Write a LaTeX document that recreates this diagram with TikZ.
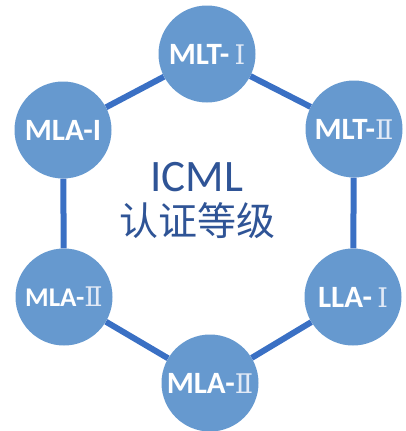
\documentclass[tikz,border=0pt]{standalone}
\usepackage{fontspec}
\setmainfont{Carlito}
\newfontfamily\cjk{Noto Sans CJK SC}
\newfontfamily\numfont{DejaVu Serif}
\usetikzlibrary{positioning}
\definecolor{ringblue}{RGB}{58,112,196}
\definecolor{levelblue}{RGB}{102,153,207}
\definecolor{titleblue}{RGB}{47,84,150}
\definecolor{numwhite}{RGB}{226,234,246}
\newcommand{\rnum}[1]{{\numfont\mdseries\fontsize{27}{27}\selectfont\color{numwhite}#1}}

\begin{document}
\begin{tikzpicture}[x=1pt, y=-1pt,
    level/.style={circle, fill=levelblue, minimum size=97pt, inner sep=0pt, text=white, font=\fontsize{31}{32}\selectfont\bfseries},
    ring/.style={ringblue, line width=6pt}]
    \useasboundingbox (0,0) rectangle (406,431);

    % Levels
    \node[level] (mlt1) at (207,54) {MLT-\,\rnum{Ⅰ}};
    \node[level] (mlt2) at (354,129) {MLT-\rnum{Ⅱ}};
    \node[level] (lla1) at (353,297) {LLA-\,\rnum{Ⅰ}};
    \node[level] (mla2b) at (210,383) {MLA-\rnum{Ⅱ}};
    \node[level, font=\fontsize{27}{28}\selectfont\bfseries] (mla2a) at (64,297) {MLA-\rnum{Ⅱ}};
    \node[level] (mla1) at (63,130) {MLA-I};

    % Ring
    \draw[ring] (mlt1) -- (mlt2) -- (lla1) -- (mla2b) -- (mla2a) -- (mla1) -- (mlt1);

    % Title
    \node[text=titleblue, font=\fontsize{45}{46}\selectfont] (icml) at (197,177) {ICML};
    \node[text=titleblue, font=\cjk\fontsize{39}{40}\selectfont, below=4pt of icml] (grade) {认证等级};
\end{tikzpicture}
\end{document}
